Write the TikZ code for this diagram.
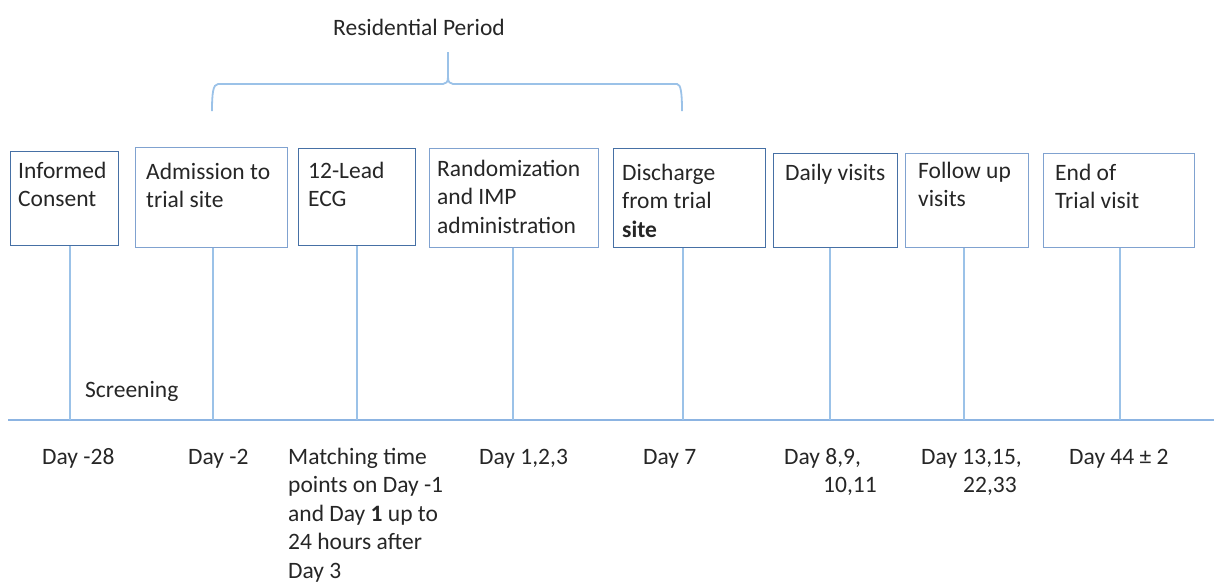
\documentclass[tikz,border=0pt]{standalone}
\usepackage{fontspec}
\setmainfont{Carlito}
\definecolor{boxdark}{RGB}{70,112,165}
\definecolor{boxlight}{RGB}{128,162,208}
\definecolor{linec}{RGB}{155,194,232}
\definecolor{axisc}{RGB}{140,180,226}
\definecolor{txt}{RGB}{38,38,38}
\newcommand{\ml}[1]{\parbox[t]{240pt}{\raggedright #1}}
\begin{document}
\begin{tikzpicture}[x=1pt,y=-1pt,
  box/.style={draw=boxlight, line width=1.3pt, rectangle, inner sep=0pt, anchor=north west},
  darkbox/.style={box, draw=boxdark},
  lbl/.style={anchor=base west, inner sep=0pt, text=txt, font=\fontsize{23.5}{28.5}\selectfont},
  conn/.style={draw=linec, line width=1.6pt},
  axisline/.style={draw=axisc, line width=2.2pt},
  bracel/.style={draw=linec, line width=1.8pt}]
\useasboundingbox (0,0) rectangle (1214,582);

% boxes
\node[darkbox, minimum width=108pt, minimum height=94pt] (b1) at (10,151) {};
\node[box, minimum width=152pt, minimum height=100pt] (b2) at (135,147) {};
\node[darkbox, minimum width=117pt, minimum height=97pt] (b3) at (298,148) {};
\node[box, minimum width=169pt, minimum height=99pt] (b4) at (429,148) {};
\node[darkbox, minimum width=152pt, minimum height=99pt] (b5) at (613,148) {};
\node[darkbox, minimum width=124pt, minimum height=94pt] (b6) at (773,153) {};
\node[box, minimum width=123pt, minimum height=94pt] (b7) at (905,153) {};
\node[box, minimum width=151pt, minimum height=94pt] (b8) at (1043,153) {};

% box texts
\node[lbl] (t1) at (18,178) {\ml{Informed\\Consent}};
\node[lbl] (t2) at (146,179) {\ml{Admission to\\trial site}};
\node[lbl] (t3) at (308,178) {\ml{12-Lead\\ECG}};
\node[lbl] (t4) at (437,176) {\ml{Randomization\\and IMP\\administration}};
\node[lbl] (t5) at (622,180) {\ml{Discharge\\from trial\\\textbf{site}}};
\node[lbl] (t6) at (785,180) {\ml{Daily visits}};
\node[lbl] (t7) at (918,178) {\ml{Follow up\\visits}};
\node[lbl] (t8) at (1055,180) {\ml{End of\\Trial visit}};

% axis
\coordinate (axL) at (8,420);
\coordinate (axR) at (1214,420);
\draw[axisline] (axL) -- (axR);

\coordinate (a1) at (70,420);
\coordinate (a2) at (213,420);
\coordinate (a3) at (357,420);
\coordinate (a4) at (513,420);
\coordinate (a5) at (683,420);
\coordinate (a6) at (830,420);
\coordinate (a7) at (964,420);
\coordinate (a8) at (1120,420);
\foreach \i in {1,...,8} {
  \draw[conn] (a\i |- b\i.south) -- (a\i);
}

% brace
\coordinate (brL) at (212,111);
\coordinate (brR) at (682,111);
\coordinate (brT) at (448,52);
\draw[bracel] (brL) .. controls (212,94) and (213,84) .. (218,84) -- (443,84)
  .. controls (446,84) and (448,82) .. (448,77) -- (brT);
\draw[bracel] (448,77) .. controls (448,82) and (450,84) .. (453,84) -- (677,84)
  .. controls (681,84) and (682,94) .. (brR);

% labels
\node[lbl] (rp) at (333,35) {Residential Period};
\node[lbl] (scr) at (85,397) {Screening};
\node[lbl] (d1) at (42,464) {Day -28};
\node[lbl] (d2) at (188,464) {Day -2};
\node[lbl] (d3) at (288,464) {\ml{Matching time\\points on Day -1\\and Day \textbf{1} up to\\24 hours after\\Day 3}};
\node[lbl] (d4) at (479,464) {Day 1,2,3};
\node[lbl] (d5) at (643,464) {Day 7};
\node[lbl] (d6) at (784,464) {\ml{Day 8,9,\\\hspace*{39pt}10,11}};
\node[lbl] (d7) at (921,464) {\ml{Day 13,15,\\\hspace*{42pt}22,33}};
\node[lbl] (d8) at (1069,464) {Day 44 ± 2};
\end{tikzpicture}
\end{document}
